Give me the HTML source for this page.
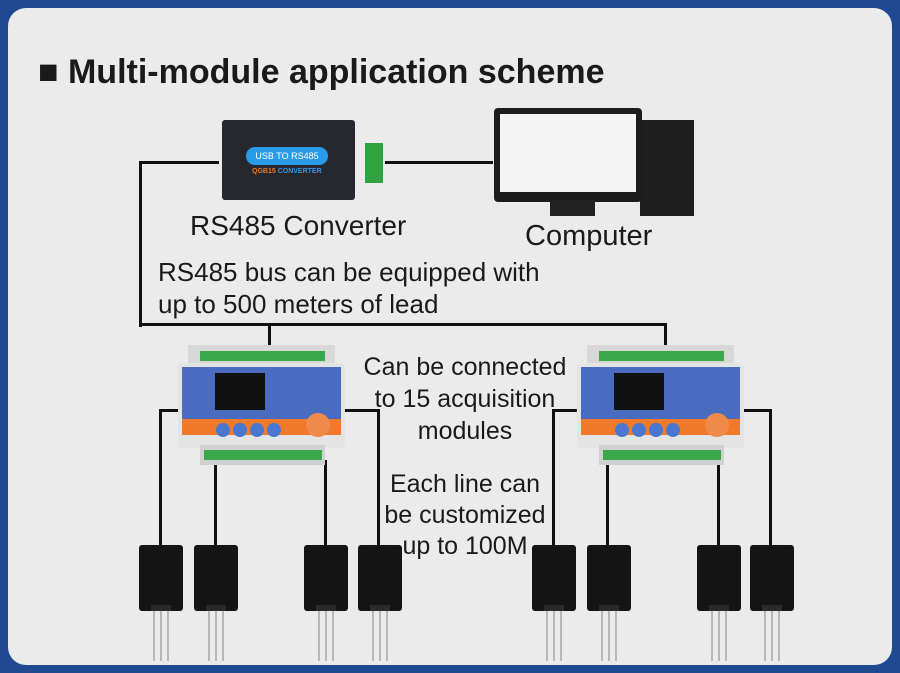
<!DOCTYPE html><html><head><style>
body{margin:0;width:900px;height:673px;background:#1f4a92;position:relative;overflow:hidden;font-family:"Liberation Sans",sans-serif}
.p{position:absolute;left:8px;top:8px;width:884px;height:657px;background:#ebebeb;border-radius:18px}
.a{position:absolute}
.l{position:absolute;background:#111}
.t{position:absolute;color:#1a1a1a;font-size:26px;white-space:nowrap}
.mod{position:absolute;width:167px;height:120px}
.sen{position:absolute;width:44px;height:118px}
</style></head><body><div class="p"></div>
<div class="t" style="left:38px;top:53px;font-size:34px;font-weight:bold">■ Multi-module application scheme</div>
<div class="l" style="left:139px;top:161px;width:80px;height:3px"></div>
<div class="l" style="left:139px;top:161px;width:3px;height:166px"></div>
<div class="l" style="left:139px;top:323px;width:528px;height:3px"></div>
<div class="l" style="left:268px;top:323px;width:3px;height:25px"></div>
<div class="l" style="left:664px;top:323px;width:3px;height:25px"></div>
<div class="l" style="left:385px;top:161px;width:108px;height:3px"></div>
<div class="a" style="left:222px;top:120px;width:133px;height:80px;background:#26282d;border-radius:3px"></div>
<div class="a" style="left:246px;top:147px;width:82px;height:18px;background:#2a9be8;border-radius:9px;color:#fff;font-size:9px;line-height:18px;text-align:center">USB TO RS485</div>
<div class="a" style="left:252px;top:168px;color:#e87a2a;font-size:7px;font-weight:bold">QGB15 <span style="color:#2a9be8">CONVERTER</span></div>
<div class="a" style="left:365px;top:143px;width:18px;height:40px;background:#2fa33f"></div>
<div class="a" style="left:640px;top:120px;width:54px;height:96px;background:#1e1e1e"></div>
<div class="a" style="left:494px;top:108px;width:148px;height:94px;background:#1c1c1c;border-radius:4px"></div>
<div class="a" style="left:500px;top:114px;width:136px;height:78px;background:#f4f4f4"></div>
<div class="a" style="left:550px;top:200px;width:45px;height:16px;background:#222"></div>
<div class="t" style="left:190px;top:210px;font-size:28px">RS485 Converter</div>
<div class="t" style="left:525px;top:220px;font-size:29px">Computer</div>
<div class="t" style="left:158px;top:257px">RS485 bus can be equipped with</div>
<div class="t" style="left:158px;top:289px">up to 500 meters of lead</div>
<div class="t" style="left:345px;top:351px;width:240px;text-align:center;font-size:25px;line-height:32px;white-space:normal">Can be connected<br>to 15 acquisition<br>modules</div>
<div class="t" style="left:355px;top:469px;width:220px;text-align:center;font-size:25px;line-height:31px;white-space:normal">Each line can<br>be customized<br>up to 100M</div>
<div class="l" style="left:159px;top:409px;width:22px;height:3px"></div><div class="l" style="left:159px;top:409px;width:3px;height:140px"></div>
<div class="l" style="left:214px;top:460px;width:3px;height:89px"></div>
<div class="l" style="left:324px;top:460px;width:3px;height:89px"></div>
<div class="l" style="left:344px;top:409px;width:36px;height:3px"></div><div class="l" style="left:377px;top:409px;width:3px;height:140px"></div>
<div class="l" style="left:552px;top:409px;width:28px;height:3px"></div><div class="l" style="left:552px;top:409px;width:3px;height:140px"></div>
<div class="l" style="left:606px;top:460px;width:3px;height:89px"></div>
<div class="l" style="left:717px;top:460px;width:3px;height:89px"></div>
<div class="l" style="left:743px;top:409px;width:29px;height:3px"></div><div class="l" style="left:769px;top:409px;width:3px;height:140px"></div>
<svg width="0" height="0" style="position:absolute"><defs><g id="m">
<rect x="10" y="0" width="147" height="22" fill="#d8d8d8"/><rect x="22" y="6" width="125" height="10" fill="#3aa84a"/>
<rect x="0" y="18" width="167" height="85" rx="4" fill="#e4e4e4"/>
<rect x="4" y="22" width="159" height="60" fill="#4a6cc0"/><rect x="4" y="74" width="159" height="16" fill="#f07a2a"/>
<rect x="37" y="28" width="50" height="37" fill="#111"/>
<circle cx="45" cy="85" r="7" fill="#4a78d0"/><circle cx="62" cy="85" r="7" fill="#4a78d0"/><circle cx="79" cy="85" r="7" fill="#4a78d0"/><circle cx="96" cy="85" r="7" fill="#4a78d0"/>
<circle cx="140" cy="80" r="12" fill="#f08a4a"/>
<rect x="22" y="100" width="125" height="20" fill="#d0d0d0"/><rect x="26" y="105" width="118" height="10" fill="#3aa84a"/>
</g>
<g id="s"><rect x="0" y="0" width="44" height="66" rx="3" fill="#141414"/><rect x="12" y="60" width="20" height="6" fill="#2a2a2a"/>
<rect x="14" y="66" width="2" height="50" fill="#b8b8b8"/><rect x="21" y="66" width="2" height="50" fill="#b8b8b8"/><rect x="28" y="66" width="2" height="50" fill="#b8b8b8"/></g></defs></svg>
<svg class="mod" style="left:178px;top:345px"><use href="#m"/></svg>
<svg class="mod" style="left:577px;top:345px"><use href="#m"/></svg>
<svg class="sen" style="left:139px;top:545px"><use href="#s"/></svg>
<svg class="sen" style="left:194px;top:545px"><use href="#s"/></svg>
<svg class="sen" style="left:304px;top:545px"><use href="#s"/></svg>
<svg class="sen" style="left:358px;top:545px"><use href="#s"/></svg>
<svg class="sen" style="left:532px;top:545px"><use href="#s"/></svg>
<svg class="sen" style="left:587px;top:545px"><use href="#s"/></svg>
<svg class="sen" style="left:697px;top:545px"><use href="#s"/></svg>
<svg class="sen" style="left:750px;top:545px"><use href="#s"/></svg>
</body></html>
